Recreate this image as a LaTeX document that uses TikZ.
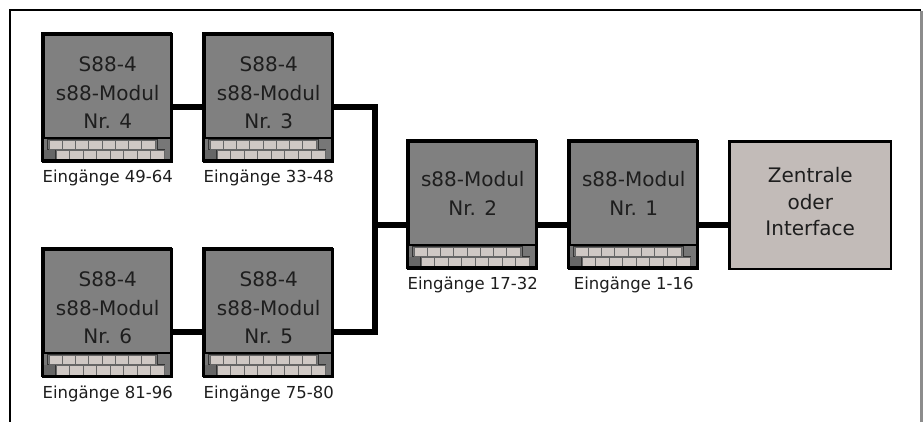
\documentclass[tikz,border=0pt]{standalone}
\usepackage{fontspec}
\setmainfont{DejaVu Sans}
\definecolor{modfill}{HTML}{808080}
\definecolor{zfill}{HTML}{C2BBB8}
\definecolor{keyfill}{HTML}{CFC8C4}
\definecolor{stripfill}{HTML}{777777}
\definecolor{txt}{HTML}{1E1E1E}
\definecolor{framegray}{HTML}{8C8C8C}
\tikzset{
  modbox/.style={draw=black, line width=2.5pt, fill=modfill, minimum width=128.5pt, minimum height=127.5pt, inner sep=0pt, anchor=north west},
  zbox/.style={draw=black, line width=2.5pt, fill=zfill, minimum width=161.5pt, minimum height=127.5pt, inner sep=0pt, anchor=north west},
  modtext/.style={text=txt, align=center, inner sep=0pt, font=\fontsize{20pt}{28.5pt}\selectfont},
  ztext/.style={text=txt, align=center, inner sep=0pt, font=\fontsize{20pt}{26.5pt}\selectfont},
  lbl/.style={text=txt, inner sep=0pt, anchor=base, font=\fontsize{16.5pt}{20pt}\selectfont},
  bus/.style={line width=6pt, black, line join=miter},
  keyst/.style={fill=keyfill, draw=black!60, line width=0.6pt},
  strip/.pic={
    \fill[stripfill] (0,104.75) rectangle (128.5,127.5);
    \fill[black!60] (1,116.5) rectangle (13.5,127);
    \draw[black!80, line width=1pt] (5.5,106.25) -- (114.75,106.25) -- (114.75,116.5) -- (122.5,116.5) -- (122.5,127) -- (12.75,127) -- (12.75,116.5) -- (5.5,116.5) -- cycle;
    \foreach \i in {0,...,7} {
      \draw[keyst] (6.75+13.25*\i,107) rectangle ++(13.25,9);
      \draw[keyst] (13.75+13.5*\i,117.25) rectangle ++(13.5,9.5);
    }
    \draw[black, line width=2pt] (0,104.75) -- (128.5,104.75);
    \draw[black, line width=2.5pt] (0,0) rectangle (128.5,127.5);
  }
}
\begin{document}
\begin{tikzpicture}[x=1pt,y=-1pt]
\useasboundingbox[fill=white] (0,0) rectangle (924,422);
% frame
\draw[line width=2pt, black] (10,422) -- (10,10) -- (921,10);
\draw[line width=3pt, framegray] (921,11) -- (921,422);
% modules
\node[modbox] (m4) at (42.25,33.25) {};
\pic at (42.25,33.25) {strip};
\node[modbox] (m3) at (203.25,33.25) {};
\pic at (203.25,33.25) {strip};
\node[modbox] (m6) at (42.25,248.25) {};
\pic at (42.25,248.25) {strip};
\node[modbox] (m5) at (203.25,248.25) {};
\pic at (203.25,248.25) {strip};
\node[modbox] (m2) at (407.25,140.25) {};
\pic at (407.25,140.25) {strip};
\node[modbox] (m1) at (568.25,140.25) {};
\pic at (568.25,140.25) {strip};
\node[zbox] (zi) at (728.25,140.25) {};
% texts
\node[modtext] (t4) at (m4.center |- 0,93) {S88-4\\s88-Modul\\Nr. 4};
\node[modtext] (t3) at (m3.center |- 0,93) {S88-4\\s88-Modul\\Nr. 3};
\node[modtext] (t6) at (m6.center |- 0,308) {S88-4\\s88-Modul\\Nr. 6};
\node[modtext] (t5) at (m5.center |- 0,308) {S88-4\\s88-Modul\\Nr. 5};
\node[modtext] (t2) at (m2.center |- 0,193.5) {s88-Modul\\Nr. 2};
\node[modtext] (t1) at (m1.center |- 0,193.5) {s88-Modul\\Nr. 1};
\node[ztext] (tz) at (zi.center |- 0,202) {Zentrale\\oder\\Interface};
% labels
\node[lbl] (l4) at (m4.center |- 0,183) {Eingänge 49-64};
\node[lbl] (l3) at (m3.center |- 0,183) {Eingänge 33-48};
\node[lbl] (l6) at (m6.center |- 0,398) {Eingänge 81-96};
\node[lbl] (l5) at (m5.center |- 0,398) {Eingänge 75-80};
\node[lbl] (l2) at (m2.center |- 0,290) {Eingänge 17-32};
\node[lbl] (l1) at (m1.center |- 0,290) {Eingänge 1-16};
% bus
\coordinate (busA) at (0,107.5);
\coordinate (busB) at (0,332);
\coordinate (busC) at (0,225);
\coordinate (jx) at (375,0);
\draw[bus] (m4.east |- busA) -- (m3.west |- busA);
\draw[bus] (m6.east |- busB) -- (m5.west |- busB);
\draw[bus] (m3.east |- busA) -- (jx |- busA) -- (jx |- busB) -- (m5.east |- busB);
\draw[bus] (jx |- busC) -- (m2.west |- busC);
\draw[bus] (m2.east |- busC) -- (m1.west |- busC);
\draw[bus] (m1.east |- busC) -- (zi.west |- busC);
\end{tikzpicture}
\end{document}
